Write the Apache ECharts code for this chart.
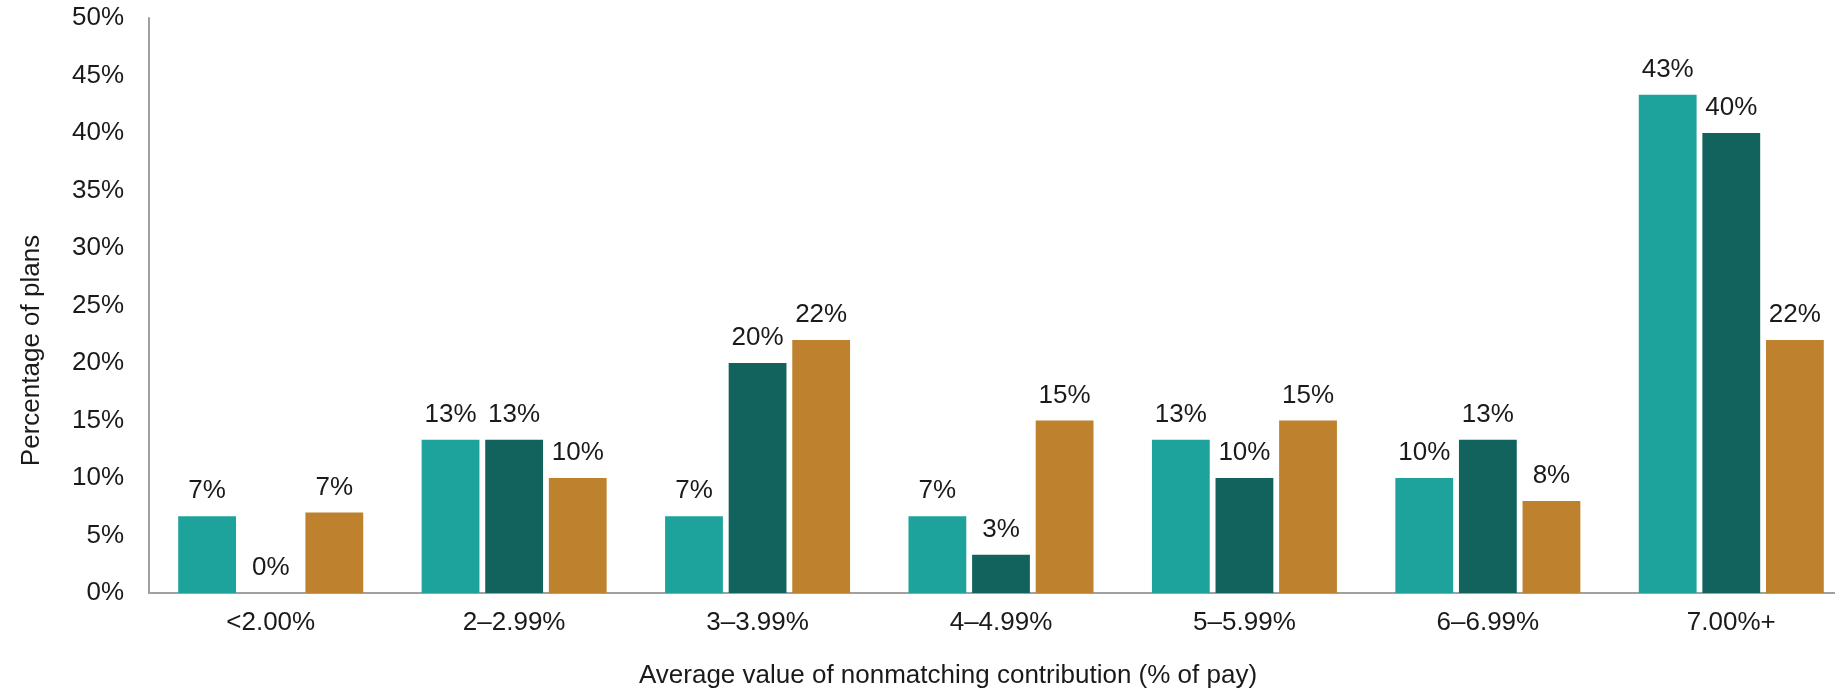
<!DOCTYPE html>
<html>
<head>
<meta charset="utf-8">
<script src="https://cdn.jsdelivr.net/npm/echarts@6/dist/echarts.min.js"></script>
<style>
html,body{margin:0;padding:0;background:#fff;}
#chart{width:1835px;height:694px;}
</style>
</head>
<body>
<div id="chart"></div>
<script>
const categories = ['<2.00%', '2–2.99%', '3–3.99%', '4–4.99%', '5–5.99%', '6–6.99%', '7.00%+'];
const seriesA = [6.67, 13.33, 6.67, 6.67, 13.33, 10.0, 43.33];
const seriesB = [0, 13.33, 20.0, 3.33, 10.0, 13.33, 40.0];
const seriesC = [7.0, 10.0, 22.0, 15.0, 15.0, 8.0, 22.0];
const yTicks = [0, 5, 10, 15, 20, 25, 30, 35, 40, 45, 50];
const xTitle = 'Average value of nonmatching contribution (% of pay)';
const yTitle = 'Percentage of plans';

const FONT = '"Liberation Sans", Arial, sans-serif';
const colors = ['#1DA39B', '#12635E', '#BE822E'];

function mkSeries(name, data, color) {
  return {
    name: name,
    type: 'bar',
    data: data,
    barGap: '10%',
    barCategoryGap: '24%',
    itemStyle: { color: color },
    label: {
      show: true,
      position: 'top',
      distance: 12,
      color: '#1a1a1a',
      fontFamily: FONT,
      fontSize: 26,
      formatter: p => Math.round(p.value) + '%'
    }
  };
}

const chart = echarts.init(document.getElementById('chart'), null, { renderer: 'canvas' });
chart.setOption({
  animation: false,
  backgroundColor: '#fff',
  grid: { left: 149, right: -18, top: 18, bottom: 101, containLabel: false, outerBoundsMode: 'none' },
  xAxis: {
    type: 'category',
    data: categories,
    axisLine: { show: true, lineStyle: { color: '#a0a0a0', width: 2 } },
    axisTick: { show: false },
    axisLabel: { color: '#1a1a1a', fontFamily: FONT, fontSize: 26, margin: 17 },
    name: xTitle,
    nameLocation: 'middle',
    nameGap: 70,
    nameTextStyle: { color: '#1a1a1a', fontFamily: FONT, fontSize: 26, padding: [0, 106, 0, 0] }
  },
  yAxis: {
    type: 'value',
    min: yTicks[0],
    max: yTicks[yTicks.length - 1],
    interval: 5,
    axisLine: { show: true, lineStyle: { color: '#a0a0a0', width: 2 } },
    axisTick: { show: false },
    splitLine: { show: false },
    axisLabel: { color: '#1a1a1a', fontFamily: FONT, fontSize: 26, margin: 25, formatter: v => v + '%' },
    name: yTitle,
    nameLocation: 'middle',
    nameGap: 104,
    nameRotate: 90,
    nameTextStyle: { color: '#1a1a1a', fontFamily: FONT, fontSize: 26, padding: [0, 90, 0, 0] }
  },
  series: [
    mkSeries('A', seriesA, colors[0]),
    mkSeries('B', seriesB, colors[1]),
    mkSeries('C', seriesC, colors[2])
  ]
});
</script>
</body>
</html>
